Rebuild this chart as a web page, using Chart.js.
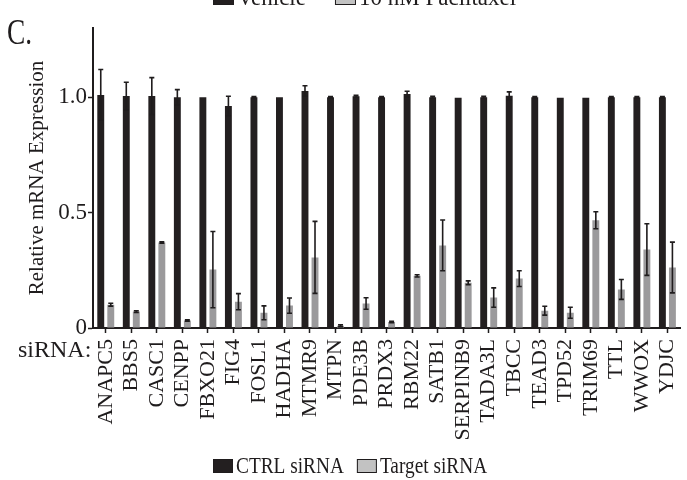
<!DOCTYPE html>
<html>
<head>
<meta charset="utf-8">
<script src="https://cdn.jsdelivr.net/npm/chart.js@4"></script>
<style>
  html, body { margin: 0; padding: 0; background: #fff; overflow: hidden; }
  #wrap { width: 687px; height: 480px; overflow: hidden; }
  canvas { display: block; }
</style>
</head>
<body>
<div id="wrap"><canvas id="chart" width="700" height="480"></canvas></div>
<script>
// ---------------------------------------------------------------
// DATA
// ---------------------------------------------------------------

const genes = ['ANAPC5', 'BBS5', 'CASC1', 'CENPP', 'FBXO21', 'FIG4', 'FOSL1', 'HADHA', 'MTMR9', 'MTPN',
  'PDE3B', 'PRDX3', 'RBM22', 'SATB1', 'SERPINB9', 'TADA3L', 'TBCC', 'TEAD3', 'TPD52', 'TRIM69',
  'TTL', 'WWOX', 'YDJC'];

const ctrlMean = [1.01, 1.005, 1.005, 1.0, 1.0, 0.962, 1.0, 1.0, 1.027, 1.0,
  1.004, 1.0, 1.014, 1.0, 0.998, 1.0, 1.006, 1.0, 0.998, 0.998,
  1.0, 1.0, 1.0];
const ctrlErr = [0.11, 0.06, 0.08, 0.033, 0, 0.042, 0.003, 0, 0.023, 0.003,
  0.004, 0.003, 0.012, 0.004, 0, 0.004, 0.017, 0.003, 0, 0,
  0.003, 0.003, 0.003];

const targetMean = [0.101, 0.071, 0.371, 0.032, 0.253, 0.114, 0.066, 0.097, 0.306, 0.010,
  0.106, 0.026, 0.226, 0.358, 0.196, 0.132, 0.214, 0.075, 0.066, 0.467,
  0.167, 0.340, 0.262];
const targetErr = [0.006, 0.004, 0.003, 0.003, 0.165, 0.035, 0.03, 0.033, 0.156, 0.004,
  0.025, 0.003, 0.005, 0.11, 0.008, 0.042, 0.034, 0.019, 0.024, 0.037,
  0.043, 0.112, 0.11];

const yTicks = [0, 0.5, 1.0];
const yTickLabels = ['0', '0.5', '1.0'];

const seriesLabels = ['CTRL siRNA', 'Target siRNA'];
const topLegendLabels = ['Vehicle', '10 nM Paclitaxel'];

// ---------------------------------------------------------------
// STYLE
// ---------------------------------------------------------------

const INK = '#1f1c1d';
const BAR_DARK = '#231f20';
const BAR_GREY = '#9b9a9c';
const SWATCH_GREY = '#c2c2c2';
const SERIF = '"Liberation Serif", "Times New Roman", serif';

// ---------------------------------------------------------------
// PLUGINS
// ---------------------------------------------------------------

const errorBars = {
  id: 'errorBars',
  afterDatasetsDraw(chart) {
    const { ctx, scales: { y } } = chart;
    ctx.save();
    ctx.strokeStyle = INK;
    ctx.lineWidth = 1.6;
    chart.data.datasets.forEach((ds, i) => {
      chart.getDatasetMeta(i).data.forEach((bar, j) => {
        const err = ds.errors[j];
        if (!err) return;
        const top = y.getPixelForValue(ds.data[j] + err);
        const bot = y.getPixelForValue(ds.data[j] - err);
        ctx.beginPath();
        ctx.moveTo(bar.x, top);
        ctx.lineTo(bar.x, bot);
        ctx.moveTo(bar.x - 2.5, top);
        ctx.lineTo(bar.x + 2.5, top);
        ctx.moveTo(bar.x - 2.5, bot);
        ctx.lineTo(bar.x + 2.5, bot);
        ctx.stroke();
      });
    });
    ctx.restore();
  }
};

// text squeezed horizontally, like the original figure
function narrowText(ctx, text, x, baseline, squeeze) {
  ctx.save();
  ctx.translate(x, baseline);
  ctx.scale(squeeze, 1);
  ctx.fillText(text, 0, 0);
  ctx.restore();
  return ctx.measureText(text).width * squeeze;
}

// swatch + label pairs, left to right
function drawLegend(ctx, labels, fills, x, baseline, boxW, gap, squeeze) {
  labels.forEach((text, i) => {
    ctx.fillStyle = fills[i];
    ctx.fillRect(x, baseline - 14, boxW, 14);
    ctx.strokeStyle = INK;
    ctx.lineWidth = 1;
    ctx.strokeRect(x + 0.5, baseline - 13.5, boxW - 1, 13);
    ctx.fillStyle = INK;
    const w = narrowText(ctx, text, x + boxW + 3, baseline, squeeze);
    x += boxW + 3 + w + gap;
  });
}

const annotations = {
  id: 'annotations',
  afterDraw(chart) {
    const ctx = chart.ctx;
    ctx.save();
    ctx.fillStyle = INK;
    ctx.textBaseline = 'alphabetic';
    ctx.textAlign = 'left';
    ctx.font = `36px ${SERIF}`;
    narrowText(ctx, 'C.', 7, 44, 0.76);
    ctx.font = `24px ${SERIF}`;
    ctx.fillText('siRNA:', 18, 357);
    ctx.font = `23px ${SERIF}`;
    drawLegend(ctx, topLegendLabels, [BAR_DARK, SWATCH_GREY], 213, 5, 21, 29, 1);
    ctx.font = `23px ${SERIF}`;
    drawLegend(ctx, seriesLabels, [BAR_DARK, SWATCH_GREY], 213, 473, 20, 13, 0.84);
    ctx.restore();
  }
};

// ---------------------------------------------------------------
// CHART
// ---------------------------------------------------------------

new Chart(document.getElementById('chart'), {
  type: 'bar',
  data: {
    labels: genes,
    datasets: [
      { label: seriesLabels[0], data: ctrlMean, errors: ctrlErr, backgroundColor: BAR_DARK,
        categoryPercentage: 0.785, barPercentage: 0.69 },
      { label: seriesLabels[1], data: targetMean, errors: targetErr, backgroundColor: BAR_GREY,
        categoryPercentage: 0.785, barPercentage: 0.69 }
    ]
  },
  options: {
    responsive: false,
    animation: false,
    layout: { padding: { top: 28, right: 9, left: 0, bottom: 0 } },
    plugins: { legend: { display: false }, tooltip: { enabled: false } },
    scales: {
      x: {
        grid: { drawOnChartArea: false, offset: false, tickLength: 5, tickColor: INK, tickWidth: 1.5 },
        border: { color: INK, width: 2 },
        ticks: {
          color: INK, font: { family: SERIF, size: 22 },
          minRotation: 90, maxRotation: 90, padding: 6, autoSkip: false
        },
        afterFit: (s) => { s.height = 152; }
      },
      y: {
        min: 0,
        max: 1.3,
        afterBuildTicks: (s) => { s.ticks = yTicks.map((v) => ({ value: v })); },
        grid: { drawOnChartArea: false, tickLength: 5, tickColor: INK, tickWidth: 1.5 },
        border: { color: INK, width: 2 },
        ticks: {
          color: INK, font: { family: SERIF, size: 23 }, padding: 1,
          callback: (v) => yTickLabels[yTicks.indexOf(v)]
        },
        title: {
          display: true, text: 'Relative mRNA Expression', color: INK,
          font: { family: SERIF, size: 21 }, padding: { top: 25, bottom: 0 }
        },
        afterFit: (s) => { s.width = 93; }
      }
    }
  },
  plugins: [errorBars, annotations]
});
</script>
</body>
</html>
